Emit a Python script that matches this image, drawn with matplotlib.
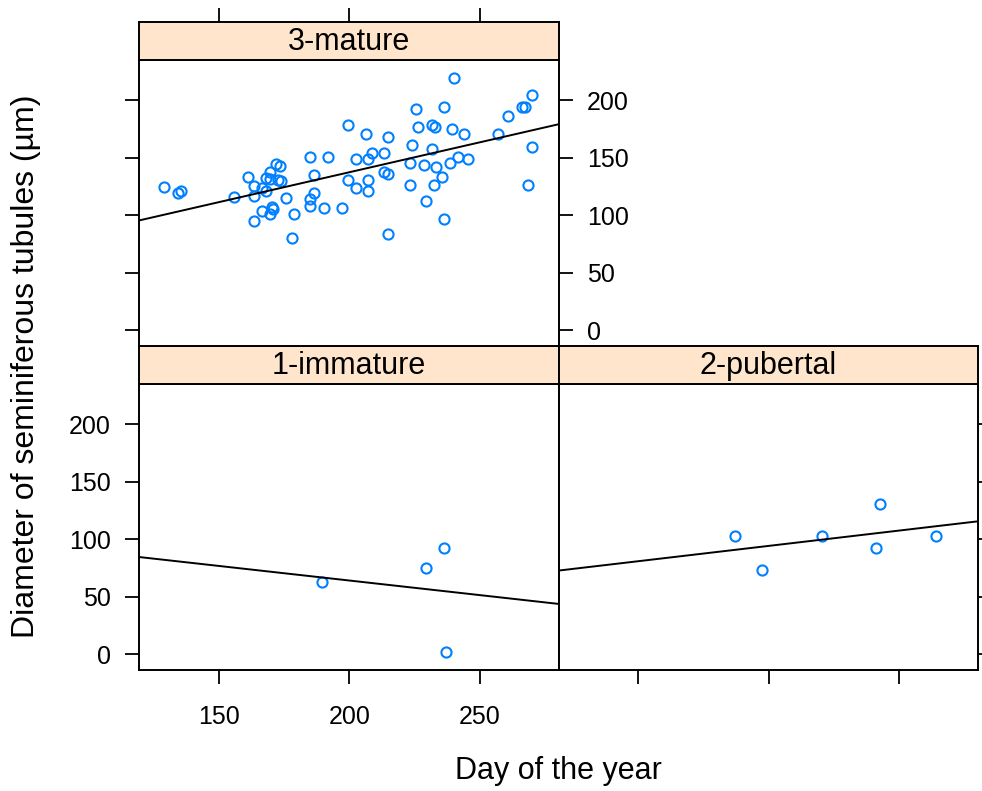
import numpy as np
import matplotlib
matplotlib.use("Agg")
import matplotlib.pyplot as plt

plt.rcParams['font.family'] = ['Liberation Sans', 'DejaVu Sans']

# day of the year / tubule diameter, by maturity stage
day_mature = [129.0, 134.4, 135.3, 155.9, 161.1, 163.4, 163.4, 163.4, 166.5, 166.7,
              168.0, 168.2, 169.5, 169.5, 169.5, 170.6, 170.3, 171.8, 173.6, 172.7,
              173.8, 175.7, 178.1, 178.7, 184.9, 186.5, 186.5, 184.9, 184.9, 190.3,
              191.9, 197.3, 199.5, 199.5, 202.7, 202.6, 206.3, 207.3, 208.7, 207.3,
              207.3, 213.3, 213.3, 214.9, 214.9, 214.9, 223.3, 223.3, 224.1, 225.6,
              226.4, 228.7, 229.4, 231.7, 232.8, 231.7, 233.3, 232.5, 235.6, 236.3,
              236.3, 238.6, 239.4, 240.2, 241.7, 243.9, 245.4, 257.0, 260.9, 266.1,
              267.2, 268.5, 269.8, 269.9]
diam_mature = [124.2, 118.9, 121.0, 115.4, 133.0, 125.4, 116.7, 94.9, 103.2, 123.6,
               132.3, 121.0, 137.1, 131.5, 100.7, 105.4, 107.5, 144.8, 143.1, 130.6,
               129.3, 115.2, 80.5, 101.3, 150.2, 134.8, 119.3, 113.6, 108.2, 106.5,
               150.2, 106.5, 178.1, 130.8, 148.6, 123.9, 170.9, 148.6, 153.7, 130.9,
               120.6, 153.7, 137.8, 136.1, 167.8, 83.8, 145.0, 126.1, 160.8, 192.2,
               176.5, 143.4, 112.3, 178.2, 176.5, 157.3, 141.5, 126.1, 132.8, 193.7,
               96.2, 145.1, 174.6, 219.7, 150.4, 170.9, 148.6, 170.9, 186.6, 193.9,
               193.9, 126.0, 204.4, 159.1]

day_immature = [189.5, 229.3, 236.2, 237.0]
diam_immature = [63.0, 75.0, 92.5, 2.0]

day_pubertal = [187.2, 197.3, 220.3, 241.0, 242.8, 264.1]
diam_pubertal = [103.0, 73.3, 103.0, 92.4, 130.7, 103.0]

xticks = [150, 200, 250]
yticks = [0, 50, 100, 150, 200]
xlim = (119.5, 280.2)
ylim = (-13.9, 235)

W, H = 982, 791
fig = plt.figure(figsize=(W / 100, H / 100), dpi=100)

def box(x0, y0, x1, y1):
    # pixel box (top-left origin) -> figure fraction
    return [x0 / W, 1 - y1 / H, (x1 - x0) / W, (y1 - y0) / H]

def panel(px, py, dias, diam, titulo):
    ax = fig.add_axes(box(px[0], py[0] + 38, px[1], py[1]))
    ax.plot(dias, diam, 'o', mfc='none', mec='#0080ff', ms=7.3, mew=1.5)
    b, a = np.polyfit(dias, diam, 1)
    xs = np.array(xlim)
    ax.plot(xs, a + b * xs, color='black', lw=1.4)
    ax.set_xlim(xlim)
    ax.set_ylim(ylim)
    ax.set_xticks(xticks)
    ax.set_yticks(yticks)
    ax.tick_params(direction='out', length=10, width=1.3, labelsize=18)
    ax.tick_params(axis='x', pad=15)
    ax.tick_params(axis='y', pad=10.5)
    for s in ax.spines.values():
        s.set_linewidth(1.4)
    # strip with the stage name
    st = fig.add_axes(box(px[0], py[0], px[1], py[0] + 38))
    st.set_facecolor('#ffe5cc')
    st.set_xlim(xlim)
    st.set_yticks([])
    st.set_xticks(xticks)
    st.tick_params(bottom=False, labelbottom=False, top=False, labeltop=False,
                   direction='out', length=10, width=1.3)
    for s in st.spines.values():
        s.set_linewidth(1.4)
    st.text(0.5, 0.48, titulo, ha='center', va='center', fontsize=22,
            transform=st.transAxes)
    return ax, st

ax1, st1 = panel((139.3, 558.7), (346, 670), day_immature, diam_immature, '1-immature')
ax1.tick_params(left=True, labelleft=True, bottom=True, labelbottom=True,
                right=False, top=False)

ax2, st2 = panel((558.7, 978), (346, 670), day_pubertal, diam_pubertal, '2-pubertal')
ax2.tick_params(left=False, labelleft=False, bottom=True, labelbottom=False,
                right=True, labelright=False, top=False)

ax3, st3 = panel((139.3, 558.7), (22, 346), day_mature, diam_mature, '3-mature')
ax3.tick_params(left=True, labelleft=False, bottom=False, labelbottom=False,
                right=True, labelright=True, top=False)
st3.tick_params(top=True)

fig.text(558.5 / W, 1 - 771 / H, 'Day of the year', ha='center', va='center', fontsize=22)
fig.text(26 / W, 1 - 366 / H, 'Diameter of seminiferous tubules (µm)', ha='center',
         va='center', rotation=90, fontsize=23)

fig.savefig('out.png', dpi=100)
